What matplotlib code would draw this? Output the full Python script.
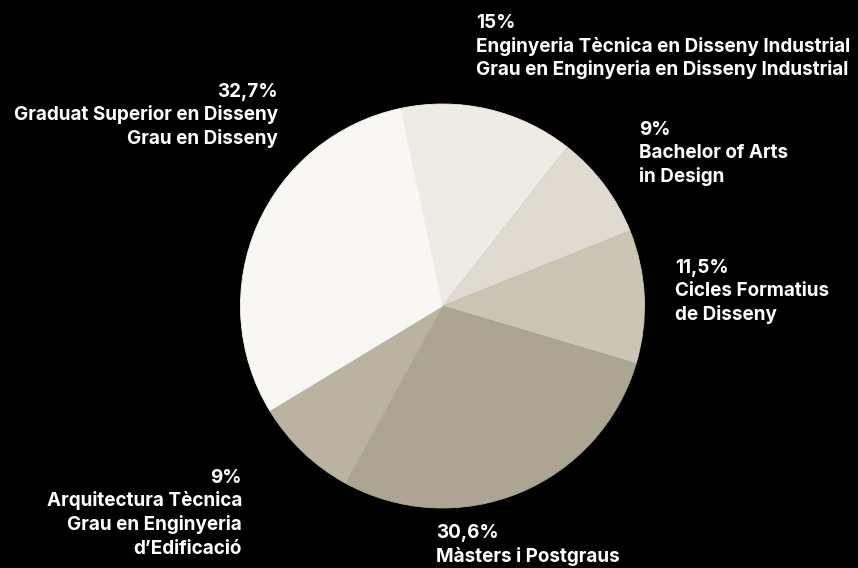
import matplotlib
matplotlib.use('Agg')
import matplotlib.pyplot as plt

# data, clockwise from the top
pcts = [15, 9, 11.5, 30.6, 9, 32.7]
pct_labels = ['15%', '9%', '11,5%', '30,6%', '9%', '32,7%']
names = [
    ['Enginyeria Tècnica en Disseny Industrial', 'Grau en Enginyeria en Disseny Industrial'],
    ['Bachelor of Arts', 'in Design'],
    ['Cicles Formatius', 'de Disseny'],
    ['Màsters i Postgraus'],
    ['Arquitectura Tècnica', 'Grau en Enginyeria', 'd’Edificació'],
    ['Graduat Superior en Disseny', 'Grau en Disseny'],
]
colors = ['#eeebe4', '#dfdbd0', '#cbc5b5', '#aca593', '#bab3a2', '#f8f7f3']

# label layout in pixels: anchor x, baseline of first line, alignment
label_x = [476, 639, 675, 436, 242, 278]
label_y = [28, 135, 273, 538, 483, 97]
label_ha = ['left', 'left', 'left', 'left', 'right', 'right']

W, H = 858, 568
fig = plt.figure(figsize=(W / 100, H / 100), dpi=100, facecolor='black')

cx, cy, r = 442.5, 306, 202
ax = fig.add_axes([(cx - r) / W, (H - cy - r) / H, 2 * r / W, 2 * r / H])
wedges, _ = ax.pie(pcts, colors=colors, startangle=102, counterclock=False)
for w in wedges:
    w.set_edgecolor(w.get_facecolor())
    w.set_linewidth(0.6)
ax.set_xlim(-1, 1)
ax.set_ylim(-1, 1)
ax.set_aspect('equal')
ax.axis('off')

step = 23.5
for i in range(len(pcts)):
    lines = [pct_labels[i]] + names[i]
    for j, line in enumerate(lines):
        fig.text(label_x[i] / W, 1 - (label_y[i] + j * step) / H, line,
                 ha=label_ha[i], va='baseline', color='white',
                 fontsize=13.6, fontweight='bold', family=['Inter', 'DejaVu Sans'])

fig.savefig('out.png', dpi=100, facecolor='black')
